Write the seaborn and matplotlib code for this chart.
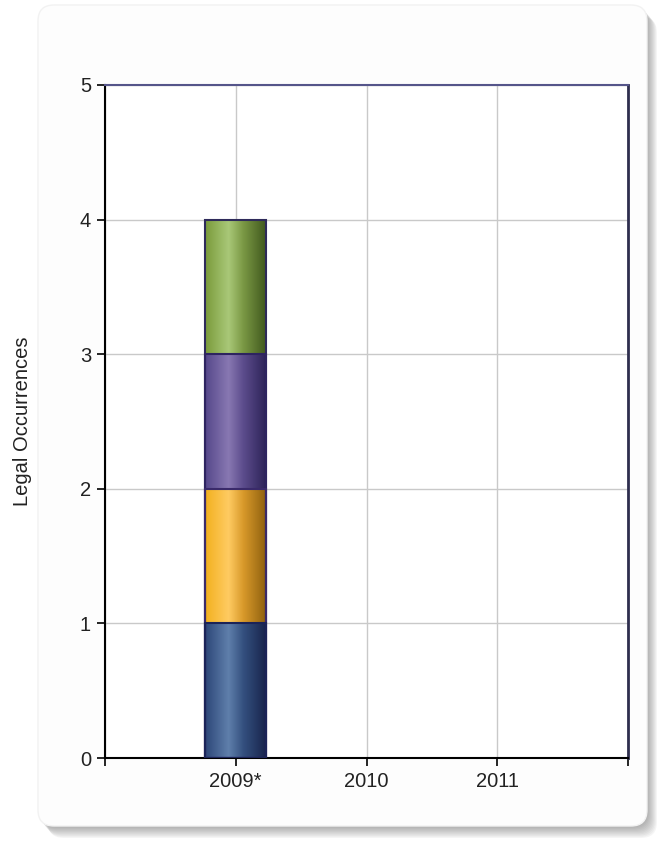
import numpy as np
import pandas as pd
import matplotlib
matplotlib.use("Agg")
import matplotlib.pyplot as plt
from matplotlib.colors import LinearSegmentedColormap
from matplotlib.patches import FancyBboxPatch
import seaborn as sns

# datos del grafico
anios = ["2009*", "2010", "2011"]
serie_azul = [1, 0, 0]
serie_oro = [1, 0, 0]
serie_morada = [1, 0, 0]
serie_verde = [1, 0, 0]
ticks_y = [0, 1, 2, 3, 4, 5]
etiqueta_y = "Legal Occurrences"

# estilos (de abajo hacia arriba)
series = [serie_azul, serie_oro, serie_morada, serie_verde]
degradados = [
    ["#2c4678", "#5f7fab", "#34507f", "#17224a"],
    ["#f2b01e", "#ffcb62", "#d8992a", "#8c5e0e"],
    ["#55478a", "#8878b2", "#5c4c8c", "#2b2256"],
    ["#7a9a3a", "#a9c878", "#7a9844", "#3e561c"],
]
bordes = ["#1b2358", "#3a2a6a", "#2e2460", "#2e2a5a"]

sns.set_theme(style="white")
plt.rcParams["font.family"] = ["Liberation Sans", "DejaVu Sans"]

fig = plt.figure(figsize=(6.57, 8.44), dpi=100)
fig.patch.set_facecolor("white")

# panel redondeado con sombra
for k in range(10, 0, -1):
    sombra = FancyBboxPatch((0.38 + k * 0.01, 0.18 - k * 0.012), 6.09, 8.21,
                            boxstyle="round,pad=0,rounding_size=0.16",
                            transform=fig.dpi_scale_trans, facecolor="#4a4a4a",
                            edgecolor="none", alpha=0.05, zorder=-3)
    fig.add_artist(sombra)
panel = FancyBboxPatch((0.38, 0.18), 6.09, 8.21,
                       boxstyle="round,pad=0,rounding_size=0.16",
                       transform=fig.dpi_scale_trans, facecolor="#fdfdfd",
                       edgecolor="#f2f2f2", linewidth=1, zorder=-2)
fig.add_artist(panel)

ax = fig.add_axes([105 / 657, 1 - 758 / 844, 523 / 657, 673 / 844])
ax.set_facecolor("white")

acumulado = np.cumsum(np.array(series), axis=0)
df = pd.DataFrame({"anio": anios})

# barras apiladas: primero la mas alta
for i in range(len(series) - 1, -1, -1):
    df["valor"] = acumulado[i]
    n_antes = len(ax.patches)
    sns.barplot(data=df, x="anio", y="valor", color=degradados[i][0],
                width=0.47, edgecolor=bordes[i], linewidth=1.5, ax=ax,
                zorder=3)
    cmap = LinearSegmentedColormap.from_list(f"g{i}", list(zip([0, 0.38, 0.62, 1], degradados[i])))
    base = acumulado[i - 1] if i > 0 else np.zeros(len(anios))
    for j, p in enumerate(ax.patches[n_antes:]):
        if acumulado[i][j] == 0:
            p.set_visible(False)
            continue
        if series[i][j] == 0:
            continue
        x0 = p.get_x()
        x1 = x0 + p.get_width()
        ax.imshow(np.linspace(0, 1, 256).reshape(1, -1), cmap=cmap,
                  aspect="auto", extent=(x0, x1, base[j], acumulado[i][j]),
                  zorder=3.2, interpolation="bilinear")
        p.set_facecolor("none")
        p.set_zorder(3.5)

ax.set_xlim(-1, 3)
ax.set_ylim(0, 5)
ax.set_yticks(ticks_y)
ax.set_xticks([-1, 0, 1, 2, 3])
ax.set_xticklabels([""] + anios + [""])
ax.grid(True, color="#c9c9c9", linewidth=1)
ax.set_axisbelow(True)

ax.tick_params(axis="both", direction="out", length=6, width=1.2, color="black",
               labelsize=14.5, bottom=True, left=True, pad=4, labelcolor="#222222")
ax.set_xlabel("")
ax.set_ylabel(etiqueta_y, fontsize=14.5, color="#222222")
ax.yaxis.set_label_coords(-0.14, 0.5)

for lado in ["left", "bottom"]:
    ax.spines[lado].set_color("black")
    ax.spines[lado].set_linewidth(1.5)
ax.spines["top"].set_color("#55558a")
ax.spines["top"].set_linewidth(1.5)
ax.spines["right"].set_color("#2e2e4e")
ax.spines["right"].set_linewidth(2)

fig.savefig("out.png", dpi=100)
